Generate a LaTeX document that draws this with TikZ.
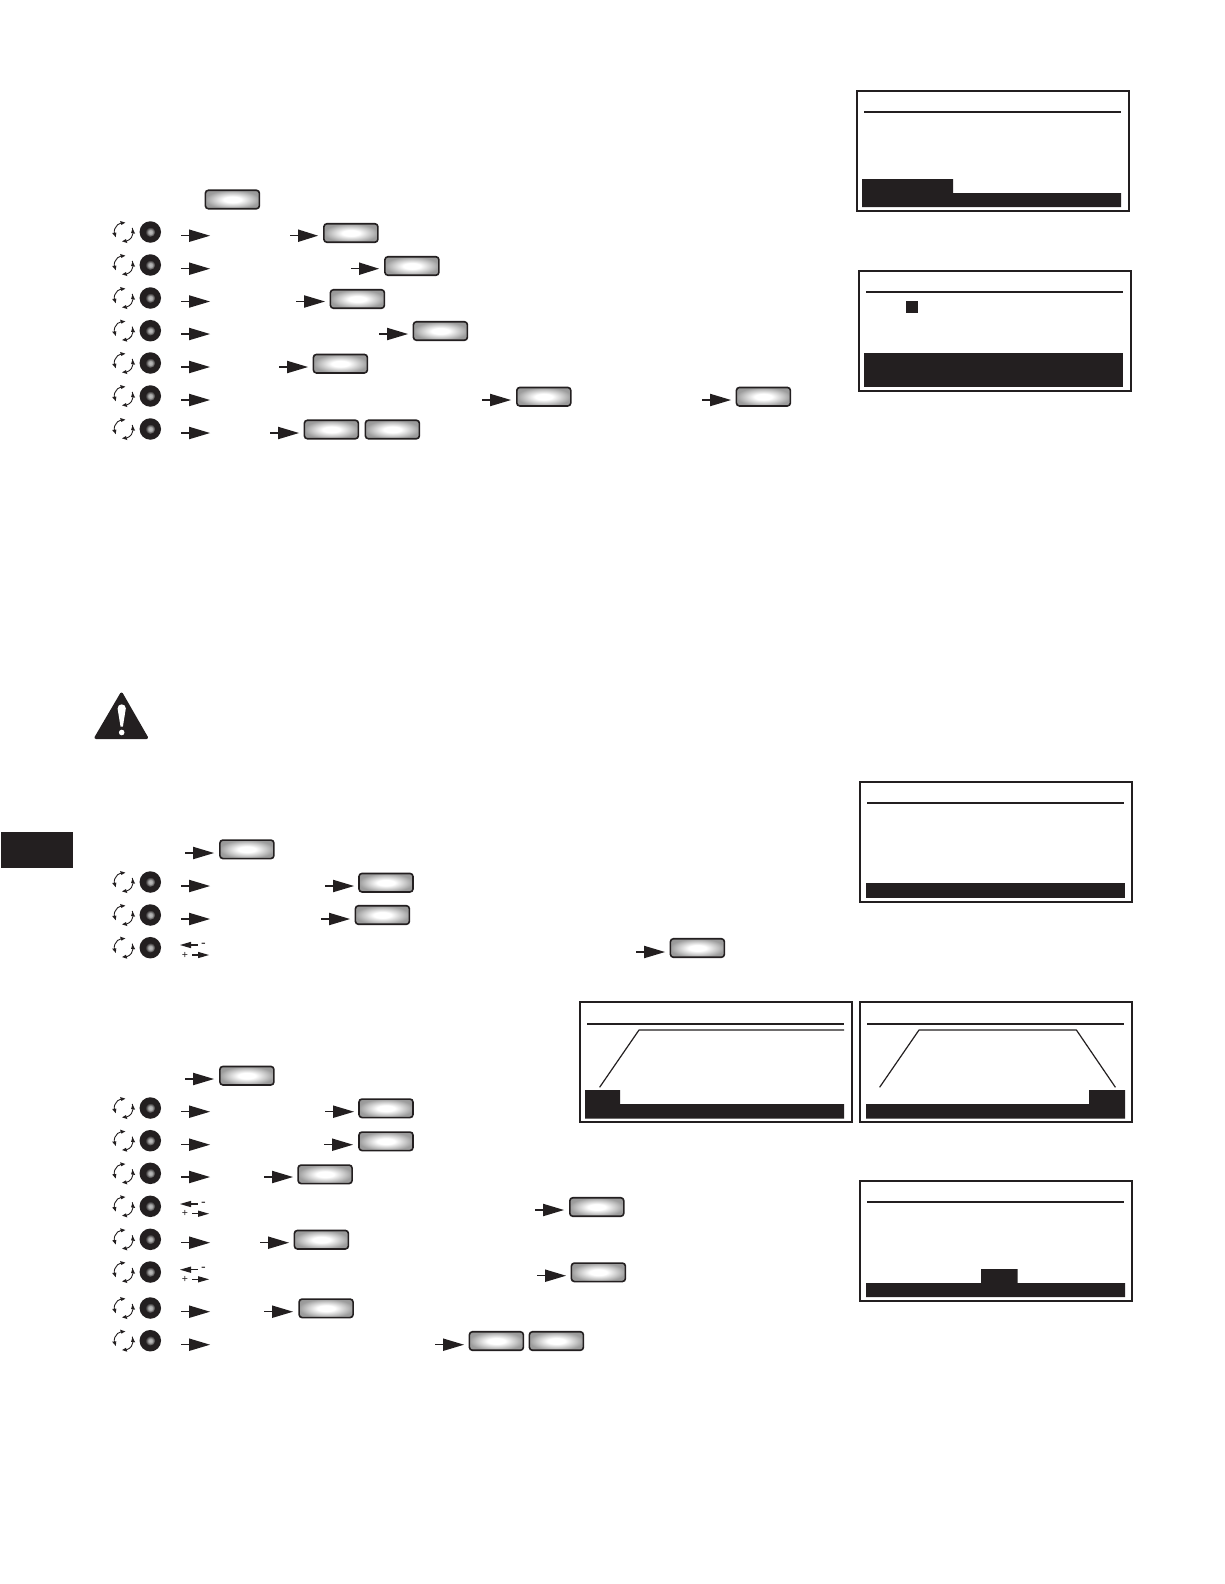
\documentclass[tikz,border=0pt]{standalone}
\usepackage{fontspec}
\setmainfont{Liberation Sans}
\definecolor{ink}{HTML}{231F20}
\pgfdeclareradialshading{btnshade}{\pgfpointorigin}{color(0bp)=(white); color(8bp)=(white); color(18bp)=(black!22); color(25bp)=(black!38); color(50bp)=(black!50)}
\pgfdeclareradialshading{coreshade}{\pgfpointorigin}{color(0bp)=(black!25); color(10bp)=(black!35); color(25bp)=(ink); color(50bp)=(ink)}
\tikzset{x=1pt,y=-1pt,
  screenframe/.style={draw=ink,line width=2pt,fill=white},
  rulethin/.style={draw=ink,line width=1.8pt},
  curve/.style={draw=ink,line width=1.2pt,line join=round},
  solid ink/.style={fill=ink,draw=none},
  keybtn/.style={rectangle,draw=ink,line width=1.6pt,rounded corners=3pt,minimum width=54pt,minimum height=18.5pt,inner sep=0pt,shading=btnshade},
  dialknob/.style={circle,fill=ink,draw=none,minimum size=21.5pt,inner sep=0pt},
  dialcore/.style={circle,draw=none,minimum size=10pt,inner sep=0pt,shading=coreshade},
  signtext/.style={inner sep=0pt,text=ink}
}
% button: name, left x, centre y
\newcommand{\keybtn}[3]{\node[keybtn] (#1) at (#2+27.4,#3) {};}
% arrow: x1, x2, y
\newcommand{\flowarrow}[3]{\draw[ink,line width=1.4pt] (#1,#3) -- (#1+10,#3);\fill[ink] (#1+8,#3-6.3) -- (#2,#3) -- (#1+8,#3+6.3) -- cycle;}
% rotating tip: cy, start angle, end angle
\newcommand{\rottip}[3]{\fill[ink] ([shift={(123.7,#1)}]#2:11.6pt) -- ([shift={(123.7,#1)}]#3:9.5pt) -- ([shift={(123.7,#1)}]#2:7.4pt) -- cycle;}
% dial: name, cy
\newcommand{\dial}[2]{%
  \node[dialknob] (#1) at (150.3,#2) {};
  \node[dialcore] (#1c) at (150.3,#2) {};
  \draw[ink,line width=0.9pt] ([shift={(123.7,#2)}]100:9.5pt) arc[start angle=100,end angle=195,radius=9.5pt];
  \draw[ink,line width=0.9pt] ([shift={(123.7,#2)}]25:9.5pt) arc[start angle=25,end angle=-75,radius=9.5pt];
  \rottip{#2}{108}{80}\rottip{#2}{185}{213}\rottip{#2}{-8}{22}\rottip{#2}{-72}{-100}}
% plus/minus arrows: name, upper y, lower y
\newcommand{\plusminus}[3]{%
  \draw[ink,line width=1.3pt] (190,#2) -- (198,#2);
  \fill[ink] (180,#2) -- (191,#2-3.2) -- (191,#2+3.2) -- cycle;
  \node[signtext,font=\fontsize{14}{14}\selectfont] (#1m) at (203.5,#2) {-};
  \node[signtext,font=\fontsize{10.5}{10.5}\selectfont] (#1p) at (185,#3) {+};
  \draw[ink,line width=1.3pt] (192,#3) -- (199,#3);
  \fill[ink] (198,#3-3.2) -- (209,#3) -- (198,#3+3.2) -- cycle;}
\begin{document}
\begin{tikzpicture}
\useasboundingbox (0,0) rectangle (1224,1584);
\fill[white] (0,0) rectangle (1224,1584);

% screens
\draw[screenframe] (857,91) rectangle (1129,211);
\draw[rulethin] (864,112) -- (1121,112);
\fill[solid ink] (862,179) -- (953,179) -- (953,193) -- (1121,193) -- (1121,207) -- (862,207) -- cycle;

\draw[screenframe] (859,271) rectangle (1131,391);
\draw[rulethin] (866,292) -- (1123,292);
\fill[solid ink] (906,301) rectangle (918,313);
\fill[solid ink] (864,353) rectangle (1123,387);

\draw[screenframe] (860,782) rectangle (1132,902);
\draw[rulethin] (867,803) -- (1124,803);
\fill[solid ink] (866,883.3) rectangle (1125,897.7);

\draw[screenframe] (580,1002) rectangle (852,1122);
\draw[rulethin] (587,1023.7) -- (844,1023.7);
\draw[curve] (599.6,1087.3) -- (639,1030) -- (844,1030);
\fill[solid ink] (585,1090) -- (620,1090) -- (620,1104) -- (844,1104) -- (844,1118.7) -- (585,1118.7) -- cycle;

\draw[screenframe] (860,1002) rectangle (1132,1122);
\draw[rulethin] (867,1023.7) -- (1124,1023.7);
\draw[curve] (879.6,1087.3) -- (919,1030) -- (1076.4,1030) -- (1115.4,1087.3);
\fill[solid ink] (866,1104) -- (1089,1104) -- (1089,1090) -- (1125,1090) -- (1125,1118.7) -- (866,1118.7) -- cycle;

\draw[screenframe] (860,1181) rectangle (1132,1300.7);
\draw[rulethin] (867,1202) -- (1124,1202);
\fill[solid ink] (866,1283) -- (981,1283) -- (981,1269) -- (1017.7,1269) -- (1017.7,1283) -- (1125,1283) -- (1125,1297) -- (866,1297) -- cycle;

% side tab
\fill[solid ink] (1,832) rectangle (73,868);

% warning triangle
\fill[ink,draw=ink,line width=3pt,line join=round] (121.5,694) -- (146.5,737.5) -- (96,737.5) -- cycle;
\fill[white] (117.6,708.5) .. controls (117.4,703) and (126,703) .. (125.8,708.5) -- (122.9,726.5) -- (120.5,726.5) -- cycle;
\fill[white] (121.7,732.5) circle[radius=2.8pt];

% first block
\keybtn{a0}{205}{199.5}
\dial{d1}{232}\flowarrow{181}{210}{235.7}\flowarrow{290}{318}{235.7}\keybtn{a1}{323.5}{233}
\dial{d2}{265}\flowarrow{181}{210}{268.7}\flowarrow{351}{379}{268.7}\keybtn{a2}{384.5}{266}
\dial{d3}{298}\flowarrow{181}{210}{301.5}\flowarrow{296}{325}{301.5}\keybtn{a3}{330}{299}
\dial{d4}{330.7}\flowarrow{181}{210}{334}\flowarrow{379}{408}{334}\keybtn{a4}{413}{331}
\dial{d5}{363}\flowarrow{181}{210}{367}\flowarrow{279}{308}{367}\keybtn{a5}{313}{363.7}
\dial{d6}{396}\flowarrow{181}{210}{400}\flowarrow{482}{511}{400}\keybtn{a6}{516.4}{396.7}\flowarrow{702}{731}{400}\keybtn{a7}{736}{396.7}
\dial{d7}{429}\flowarrow{181}{210}{433}\flowarrow{270}{299}{433}\keybtn{a8}{304}{429.5}\keybtn{a9}{365}{429.5}

% second block
\flowarrow{185}{214}{853}\keybtn{b0}{219.5}{849.3}
\dial{e1}{882}\flowarrow{181}{210}{886}\flowarrow{325}{354}{886}\keybtn{b1}{358.6}{882.7}
\dial{e2}{915}\flowarrow{181}{210}{919}\flowarrow{321}{350}{919}\keybtn{b2}{355}{915}
\dial{e3}{947.7}\plusminus{pm1}{945}{955}\flowarrow{636}{665}{952}\keybtn{b3}{670}{948}

% third block
\flowarrow{185}{214}{1079}\keybtn{c0}{219.5}{1075.7}
\dial{f1}{1108}\flowarrow{181}{210}{1111.7}\flowarrow{325}{354}{1111.7}\keybtn{c1}{358.6}{1108.3}
\dial{f2}{1140.7}\flowarrow{181}{210}{1144.7}\flowarrow{324}{353}{1144.7}\keybtn{c2}{358.6}{1141.3}
\dial{f3}{1173.3}\flowarrow{181}{210}{1177}\flowarrow{264}{293}{1177}\keybtn{c3}{297.7}{1174.3}
\dial{f4}{1206.3}\plusminus{pm2}{1204}{1213.7}\flowarrow{535}{564}{1210}\keybtn{c4}{569.4}{1207}
\dial{f5}{1239.3}\flowarrow{181}{210}{1242.7}\flowarrow{260}{289}{1242.7}\keybtn{c5}{294}{1239.7}
\dial{f6}{1272}\plusminus{pm3}{1269.7}{1279.3}\flowarrow{537}{566}{1275.7}\keybtn{c6}{571}{1272.3}
\dial{f7}{1308}\flowarrow{181}{210}{1311.7}\flowarrow{264}{293}{1311.7}\keybtn{c7}{298.7}{1308.3}
\dial{f8}{1340.7}\flowarrow{181}{210}{1344.7}\flowarrow{435}{464}{1344.7}\keybtn{c8}{469}{1341}\keybtn{c9}{529}{1341}
\end{tikzpicture}
\end{document}
